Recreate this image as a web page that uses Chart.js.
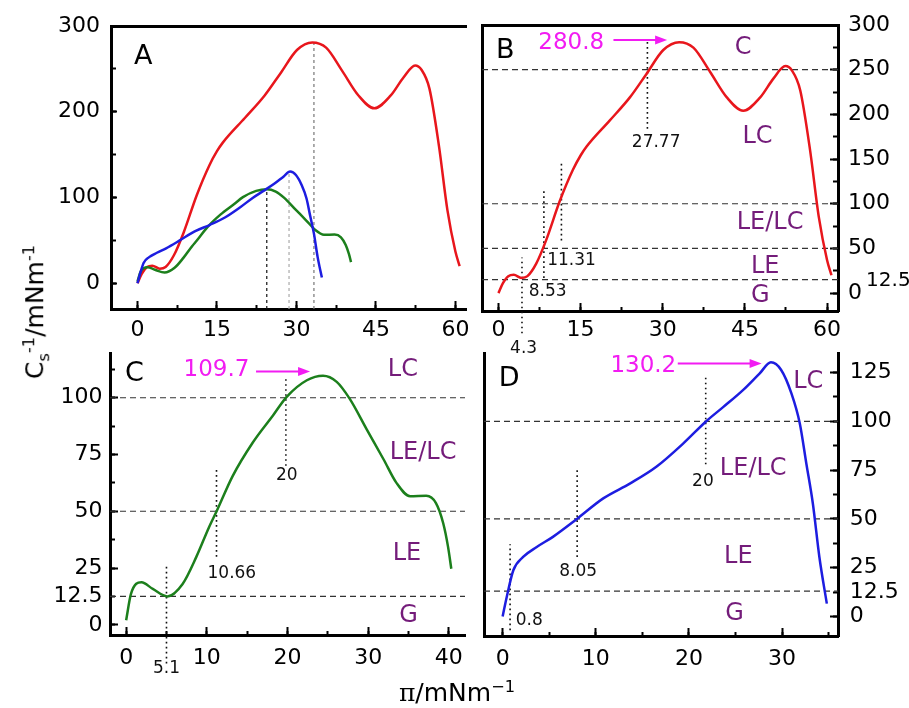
<!DOCTYPE html>
<html>
<head>
<meta charset="utf-8">
<script src="https://cdn.jsdelivr.net/npm/chart.js@4.4.1/dist/chart.umd.min.js"></script>
<style>
  body { margin: 0; background: #fff; }
  #wrap { position: relative; width: 909px; height: 708px; overflow: hidden; }
  #wrap canvas { position: absolute; left: 0; top: 0; }
  .title { position: absolute; white-space: nowrap; line-height: 1; color: #000;
           font-family: 'DejaVu Sans', sans-serif; font-size: 25px; transform: translate(-50%, -50%); }
  .title sup, .title sub { font-size: 65%; }
  #ytitle { left: 37px; top: 312px; transform: translate(-50%, -50%) rotate(-90deg); }
  #xtitle { left: 457px; top: 692px; }
</style>
</head>
<body>
<div id="wrap">
  <canvas id="cA" width="909" height="708"></canvas>
  <canvas id="cB" width="909" height="708"></canvas>
  <canvas id="cC" width="909" height="708"></canvas>
  <canvas id="cD" width="909" height="708"></canvas>
  <div class="title" id="ytitle">C<sub>s</sub><sup>-1</sup>/mNm<sup>-1</sup></div>
  <div class="title" id="xtitle"><span style="font-family:'DejaVu Serif',serif">π</span>/mNm<sup>−1</sup></div>
</div>
<script>
// --- valori ---
// curva rossa (pannelli A e B)
const piRed = [0, 0.8, 1.8, 2.8, 4.2, 5.3, 6.9, 8.7, 11.2, 13.6, 15, 16.1, 20.3, 24, 27, 30.1, 33, 35.6, 38.6, 41.7, 44.7, 47.8, 50.2, 52.4, 53.6, 55.1, 56.9, 58.5, 60, 60.8];
const csRed = [0, 11, 19, 20.5, 17, 19, 33, 59, 103, 138, 154, 164, 193, 219, 245, 272, 280.8, 274.7, 248, 219, 204, 219, 240, 254, 249, 227, 160, 85, 37, 20];
// curva verde (pannelli A e C)
const piGreen = [0, 0.6, 1.9, 3.3, 5.1, 7.0, 8.7, 10.3, 11.2, 13.2, 15.7, 18.2, 19.9, 22.4, 24.4, 26.1, 27.7, 29.8, 31.9, 33.5, 35.2, 37.2, 38.4, 39.3, 39.9, 40.3];
const csGreen = [2, 13.6, 18.7, 15.8, 12.5, 18, 29.9, 43.2, 49.9, 65.5, 80.3, 92.2, 100.4, 107.7, 109.7, 107, 99.6, 86.2, 72.9, 62.5, 56.6, 56.8, 53.6, 44.7, 34.3, 24.7];
// curva blu (pannelli A e D)
const piBlue = [0, 0.44, 1.15, 2.2, 3.66, 5.4, 7.9, 10.8, 13.7, 16.5, 19.4, 21.8, 23.7, 25.8, 27.6, 28.8, 29.9, 31, 31.9, 32.6, 33.3, 34, 34.8];
const csBlue = [0, 10, 23.7, 30.5, 35.6, 40.8, 49.7, 60.5, 68.2, 76.7, 88.7, 99.8, 107.4, 116, 124.6, 130.2, 126.3, 114.3, 98.9, 78.4, 57.9, 30.5, 6.6];

// limiti tra le fasi (linee tratteggiate orizzontali)
const levelsB = [250, 100, 50, 15];
const levelsC = [100, 50, 12.5];
const levelsD = [100, 50, 13];

// linee verticali: [pi, da, a]
const dropsA = [[24.4, -30, 109], [28.6, -30, 129], [33.3, -30, 281]];
const marksB = [[27.2, 184, 281], [11.5, 59, 147], [8.3, 17, 115], [4.3, -45, 40]];
const marksC = [[5.0, -17, 26], [11.2, 30, 69], [19.8, 70, 109]];
const marksD = [[0.8, -7, 37], [8.0, 30.5, 76], [21.8, 78, 123]];

// etichette: [testo, pi, Cs]
const phasesB = [['C', 44.7, 274], ['LC', 47.3, 175], ['LE/LC', 49.6, 78.5], ['LE', 48.7, 29], ['G', 47.8, -2.5]];
const phasesC = [['LC', 34.3, 112.2], ['LE/LC', 36.8, 75.9], ['LE', 34.8, 31.4], ['G', 35.0, 3.9]];
const phasesD = [['LC', 32.8, 120.3], ['LE/LC', 26.9, 75.9], ['LE', 25.3, 30.5], ['G', 24.9, 1.5]];
const valuesB = [['27.77', 28.8, 169], ['11.31', 13.35, 36.7], ['8.53', 9.0, 1.2], ['4.3', 4.6, -62]];
const valuesC = [['5.1', 5.0, -19.4], ['10.66', 13.1, 22.5], ['20', 19.9, 65.5]];
const valuesD = [['0.8', 2.86, -1.9], ['8.05', 8.1, 22.8], ['20', 21.5, 69]];
// picco: [testo, pi, Cs, freccia da, freccia a, Cs freccia]
const peakB = ['280.8', 13.3, 279.8, 21, 30.8, 283.2];
const peakC = ['109.7', 11.2, 112.2, 16.1, 22.8, 111.5];
const peakD = ['130.2', 15.1, 128.4, 18.8, 27.8, 129.6];

// etichette dei tick
const labelsC = [0, 12.5, 25, 50, 75, 100];
const labelsD = [0, 12.5, 25, 50, 75, 100, 125];

// --- impaginazione ---
const W = 909, H = 708;
const RED = '#e8161c', GREEN = '#1c7f1c', BLUE = '#1d1de0', PURPLE = '#741c7a', MAGENTA = '#f21cf2';
const styles = {
  big: { size: 27, color: '#000' },
  phase: { size: 24, color: PURPLE },
  peak: { size: 23, color: MAGENTA },
  small: { size: 17, color: '#111' },
  tick: { size: 20, color: '#000' }
};
Chart.defaults.font.family = "'DejaVu Sans', sans-serif";

// asse con tacche verso l'interno; size = spazio riservato alle etichette
function axis(position, range, o) {
  const size = o.size || 0;
  return {
    type: 'linear', position, min: range[0], max: range[1],
    boxSize: size,
    weight: size ? 1 : 0,   // gli assi senza etichette restano a ridosso dell'area del grafico
    afterFit: s => {
      if (s.isHorizontal()) s.height = size; else s.width = size;
      s.paddingLeft = s.paddingRight = s.paddingTop = s.paddingBottom = 0;
    },
    border: { display: !!o.border, color: '#000', width: 3 },
    grid: { display: !!o.len, drawOnChartArea: false, drawTicks: true, tickLength: -(o.len || 0), tickWidth: 2, tickColor: '#000' },
    ticks: {
      display: !!o.step, stepSize: o.step, includeBounds: false, autoSkip: false, maxRotation: 0,
      padding: o.pad || 0, color: '#000', font: { size: 22 },
      callback: v => (o.show && o.show(v)) ? String(v) : ''
    }
  };
}

function curve(xs, ys, color) {
  return { data: xs.map((v, i) => ({ x: v, y: ys[i] })), borderColor: color, borderWidth: 2.5,
           pointRadius: 0, cubicInterpolationMode: 'monotone', fill: false };
}
function hline(v, xr) {
  return { data: [{ x: xr[0], y: v }, { x: xr[1], y: v }], borderColor: '#333', borderWidth: 1.2,
           borderDash: [6, 4], pointRadius: 0 };
}
function vline(m, color, dash, width) {
  return { data: [{ x: m[0], y: m[1] }, { x: m[0], y: m[2] }], borderColor: color, borderWidth: width || 1.6,
           borderDash: dash, pointRadius: 0, clip: false };
}

// plugin per testi e frecce, posizionati tramite le scale
function notes(items, arrows) {
  return {
    id: 'notes',
    afterDraw(chart) {
      const { ctx } = chart;
      const x = chart.scales.x, y = chart.scales.y;
      ctx.save();
      ctx.textAlign = 'center';
      ctx.textBaseline = 'middle';
      items.forEach(([text, vx, vy, st]) => {
        ctx.font = styles[st].size + "px 'DejaVu Sans', sans-serif";
        ctx.fillStyle = styles[st].color;
        ctx.fillText(text, x.getPixelForValue(vx), y.getPixelForValue(vy));
      });
      arrows.forEach(([x1, x2, vy]) => {
        const p1 = x.getPixelForValue(x1), p2 = x.getPixelForValue(x2), py = y.getPixelForValue(vy);
        ctx.strokeStyle = MAGENTA;
        ctx.fillStyle = MAGENTA;
        ctx.lineWidth = 2;
        ctx.beginPath(); ctx.moveTo(p1, py); ctx.lineTo(p2 - 10, py); ctx.stroke();
        ctx.beginPath(); ctx.moveTo(p2, py); ctx.lineTo(p2 - 12, py - 4.5); ctx.lineTo(p2 - 12, py + 4.5); ctx.closePath(); ctx.fill();
      });
      ctx.restore();
    }
  };
}

function panel(id, box, scales, datasets, items, arrows) {
  const pad = { left: box[0], top: box[1], right: W - box[2], bottom: H - box[3] };
  Object.values(scales).forEach(s => { pad[s.position] -= s.boxSize; });
  new Chart(document.getElementById(id), {
    type: 'line',
    data: { datasets },
    options: {
      responsive: false, animation: false, events: [], devicePixelRatio: 1,
      layout: { padding: pad },
      scales,
      plugins: { legend: { display: false }, tooltip: { enabled: false } }
    },
    plugins: [notes(items, arrows)]
  });
}

const all = () => true;
const tag = (list, st) => list.map(r => [r[0], r[1], r[2], st]);
const peakTag = p => [[p[0], p[1], p[2], 'peak']];
const peakArrow = p => [[p[3], p[4], p[5]]];

// Pannello A
const xA = [-5, 62], yA = [-30, 300];
panel('cA', [111, 26, 466, 309], {
  x: axis('bottom', xA, { border: true, step: 15, len: 8, pad: 16, show: all, size: H - 309 }),
  xm: axis('bottom', xA, { step: 7.5, len: 4 }),
  xt: axis('top', xA, { border: true }),
  y: axis('left', yA, { border: true, step: 100, len: 6, pad: 17, show: all, size: 111 }),
  ym: axis('left', yA, { step: 50, len: 5 })
}, [
  curve(piBlue, csBlue, BLUE),
  curve(piGreen, csGreen, GREEN),
  curve(piRed, csRed, RED),
  vline(dropsA[0], '#111', [3, 3], 1.2),
  vline(dropsA[1], '#aaa', [3, 3], 1.2),
  vline(dropsA[2], '#777', [3, 3], 1.2)
], [['A', 1.1, 264, 'big']], []);

// Pannello B
const xB = [-3, 62], yB = [-20, 300];
panel('cB', [482, 25, 838, 311], {
  x: axis('bottom', xB, { border: true, step: 15, len: 8, pad: 14, show: all, size: H - 311 }),
  xm: axis('bottom', xB, { step: 7.5, len: 4 }),
  xt: axis('top', xB, { border: true }),
  y: axis('right', yB, { border: true, step: 50, len: 8, pad: 18, show: all, size: W - 838 }),
  ym: axis('right', yB, { step: 25, len: 5 }),
  yl: axis('left', yB, { border: true })
}, [
  curve(piRed, csRed, RED),
  ...levelsB.map(v => hline(v, xB)),
  ...marksB.map(m => vline(m, '#111', [1.6, 3.4]))
], [['B', 1.24, 270.6, 'big'], ...tag(phasesB, 'phase'), ...tag(valuesB, 'small'), ...peakTag(peakB),
    ['12.5', 71.2, 14, 'tick']], peakArrow(peakB));

// Pannello C
const xC = [-2, 42], yC = [-4.5, 119.7];
panel('cC', [110, 353, 465, 635], {
  x: axis('bottom', xC, { border: true, step: 10, len: 8, pad: 18.5, show: all, size: H - 635 }),
  xm: axis('bottom', xC, { step: 5, len: 4 }),
  y: axis('left', yC, { border: true, step: 12.5, len: 5, pad: 12.5, show: v => labelsC.includes(v), size: 110 }),
  ym: axis('left', yC, { step: 25, len: 8 })
}, [
  curve(piGreen, csGreen, GREEN),
  ...levelsC.map(v => hline(v, xC)),
  ...marksC.map(m => vline(m, '#111', [1.6, 3.4]))
], [['C', 1.04, 110.5, 'big'], ...tag(phasesC, 'phase'), ...tag(valuesC, 'small'), ...peakTag(peakC)], peakArrow(peakC));

// Pannello D
const xD = [-2, 36], yD = [-10, 135];
panel('cD', [484, 353, 838, 636], {
  x: axis('bottom', xD, { border: true, step: 10, len: 8, pad: 18, show: all, size: H - 636 }),
  xm: axis('bottom', xD, { step: 5, len: 4 }),
  y: axis('right', yD, { border: true, step: 12.5, len: 5, pad: 16.7, show: v => labelsD.includes(v), size: W - 838 }),
  ym: axis('right', yD, { step: 25, len: 8 }),
  yl: axis('left', yD, { border: true })
}, [
  curve(piBlue, csBlue, BLUE),
  ...levelsD.map(v => hline(v, xD)),
  ...marksD.map(m => vline(m, '#111', [1.6, 3.4]))
], [['D', 0.69, 121.6, 'big'], ...tag(phasesD, 'phase'), ...tag(valuesD, 'small'), ...peakTag(peakD)], peakArrow(peakD));
</script>
</body>
</html>
